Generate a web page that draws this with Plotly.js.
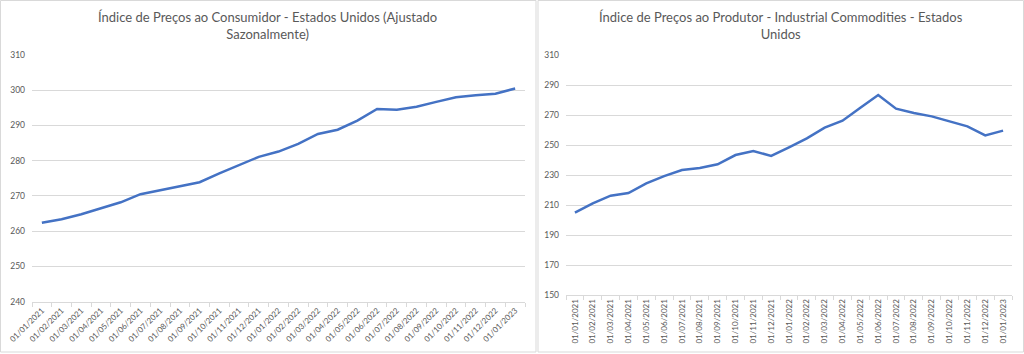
<!DOCTYPE html>
<html>
<head>
<meta charset="utf-8">
<script src="https://cdn.plot.ly/plotly-3.0.1.min.js"></script>
<style>
html,body{margin:0;padding:0;background:#fff;}
#chart{width:1024px;height:354px;}
</style>
</head>
<body>
<div id="chart"></div>
<script>
const dates = ["01/01/2021","01/02/2021","01/03/2021","01/04/2021","01/05/2021","01/06/2021","01/07/2021","01/08/2021","01/09/2021","01/10/2021","01/11/2021","01/12/2021","01/01/2022","01/02/2022","01/03/2022","01/04/2022","01/05/2022","01/06/2022","01/07/2022","01/08/2022","01/09/2022","01/10/2022","01/11/2022","01/12/2022","01/01/2023"];
const cpi = [262.4,263.4,264.8,266.5,268.2,270.5,271.7,272.8,273.9,276.4,278.8,281.1,282.6,284.8,287.6,288.8,291.4,294.7,294.5,295.3,296.7,298.0,298.6,299.0,300.5];
const ppi = [204.9,211.1,216.2,218.0,224.4,229.3,233.3,234.7,237.1,243.3,246.0,242.7,248.4,254.4,261.6,266.2,274.9,283.3,274.2,271.3,269.1,265.8,262.4,256.4,259.6];
const cpiTitle = "Índice de Preços ao Consumidor - Estados Unidos (Ajustado<br>Sazonalmente)";
const ppiTitle = "Índice de Preços ao Produtor - Industrial Commodities - Estados<br>Unidos";

const FONT = "Lato, 'Open Sans', sans-serif";
const GRID = "#d9d9d9";
const TXT = "#595959";
const LINE = "#4472C4";

const W = 1024, H = 354;
const px = v => v / W;
const py = v => 1 - v / H;

const traces = [
  {x: dates, y: cpi, type: "scatter", mode: "lines", xaxis: "x", yaxis: "y",
   line: {color: LINE, width: 2.5}, hoverinfo: "x+y", showlegend: false},
  {x: dates, y: ppi, type: "scatter", mode: "lines", xaxis: "x2", yaxis: "y2",
   line: {color: LINE, width: 2.5}, hoverinfo: "x+y", showlegend: false}
];

const xBase = {
  type: "category", range: [-0.5, dates.length - 0.5], tickson: "boundaries",
  ticks: "outside", ticklen: 4, tickcolor: GRID, showline: true, linecolor: GRID, linewidth: 1,
  showgrid: false, zeroline: false, tickfont: {family: FONT, size: 8, color: TXT}, fixedrange: true
};
const yBase = {
  showgrid: true, gridcolor: GRID, gridwidth: 1, zeroline: false, showline: false,
  ticks: "", tickfont: {family: FONT, size: 8.5, color: TXT}, ticklabelstandoff: 6, fixedrange: true
};

const layout = {
  width: W, height: H, margin: {l: 0, r: 0, t: 0, b: 0},
  paper_bgcolor: "#fff", plot_bgcolor: "#fff", showlegend: false,
  xaxis: Object.assign({}, xBase, {domain: [px(32), px(525)], anchor: "y", tickangle: -45}),
  yaxis: Object.assign({}, yBase, {domain: [py(301.7), py(55)], anchor: "x", range: [240, 310], dtick: 10, tick0: 240}),
  xaxis2: Object.assign({}, xBase, {domain: [px(566), px(1012)], anchor: "y2", tickangle: -90}),
  yaxis2: Object.assign({}, yBase, {domain: [py(295), py(55)], anchor: "x2", range: [150, 310], dtick: 20, tick0: 150}),
  shapes: [
    {type: "rect", xref: "paper", yref: "paper", x0: px(0.5), x1: px(536), y0: py(352), y1: py(0.5), line: {color: GRID, width: 1}},
    {type: "rect", xref: "paper", yref: "paper", x0: px(538), x1: px(1023.5), y0: py(352), y1: py(0.5), line: {color: GRID, width: 1}}
  ],
  annotations: [
    {text: cpiTitle, xref: "paper", yref: "paper", x: px(267), y: py(7), xanchor: "center", yanchor: "top",
     showarrow: false, align: "center", font: {family: FONT, size: 13, color: TXT}},
    {text: ppiTitle, xref: "paper", yref: "paper", x: px(781), y: py(7), xanchor: "center", yanchor: "top",
     showarrow: false, align: "center", font: {family: FONT, size: 13, color: TXT}}
  ]
};

Plotly.newPlot("chart", traces, layout, {displayModeBar: false, staticPlot: false});
</script>
</body>
</html>
